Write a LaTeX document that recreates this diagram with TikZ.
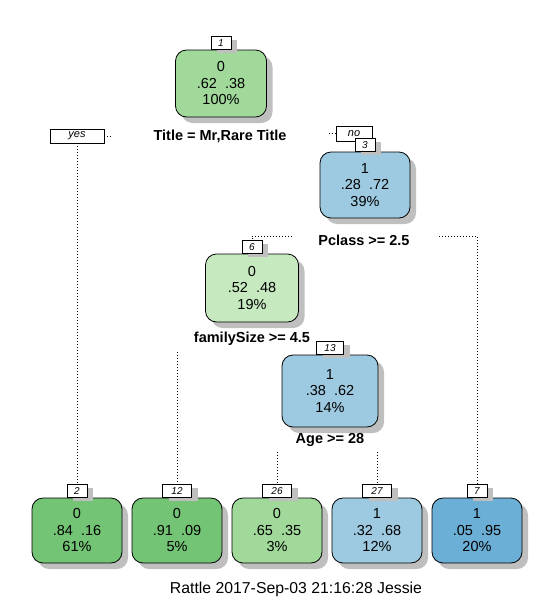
\documentclass[tikz,border=0pt]{standalone}
\usepackage{fontspec}
\setmainfont{Liberation Sans}
\usetikzlibrary{shadows}
\definecolor{greenA}{RGB}{161,217,155}
\definecolor{greenB}{RGB}{199,233,192}
\definecolor{greenC}{RGB}{116,196,118}
\definecolor{blueA}{RGB}{158,202,225}
\definecolor{blueB}{RGB}{107,174,214}
\tikzstyle{node_box} = [rectangle, draw, line width=0.8pt, rounded corners=11pt, inner sep=0pt, align=center, font=\fontsize{14.5}{16.5}\selectfont, minimum width=90pt, minimum height=66pt, drop shadow={shadow xshift=6pt, shadow yshift=-6pt, fill=black!25, opacity=1}]
\tikzstyle{node_num} = [rectangle, draw, fill=white, line width=0.7pt, inner xsep=4pt, inner sep=0pt, minimum width=20pt, minimum height=13pt, anchor=south, font=\fontsize{10}{11}\selectfont\itshape, drop shadow={shadow xshift=6pt, shadow yshift=-4pt, fill=black!25, opacity=1}]
\tikzstyle{node_split} = [font=\fontsize{14.5}{16}\selectfont\bfseries, inner sep=1pt]
\tikzstyle{node_dir} = [rectangle, draw, fill=white, line width=0.7pt, inner sep=0pt, font=\fontsize{11}{12}\selectfont\itshape]
\tikzstyle{edge_dotted} = [line width=0.8pt, dash pattern=on 0.8pt off 2.2pt]

\begin{document}
\begin{tikzpicture}[x=1pt, y=-1pt]
		\useasboundingbox (0,0) rectangle (554,600);
		\def\ly{530.5}
		\node (N1) at (221,83.5) [node_box, fill=greenA, minimum width=91pt, minimum height=67pt] {0\\.62~~.38\\100\%};
		\node (N3) at (365,185) [node_box, fill=blueA] {1\\.28~~.72\\39\%};
		\node (N6) at (252,288) [node_box, fill=greenB, minimum width=93pt, minimum height=68pt] {0\\.52~~.48\\19\%};
		\node (N13) at (330,391) [node_box, fill=blueA, minimum width=96pt, minimum height=72pt] {1\\.38~~.62\\14\%};
		\node (N2) at (77,\ly) [node_box, fill=greenC, minimum height=65pt] {0\\.84~~.16\\61\%};
		\node (N12) at (177,\ly) [node_box, fill=greenC, minimum height=65pt] {0\\.91~~.09\\5\%};
		\node (N26) at (277,\ly) [node_box, fill=greenA, minimum height=65pt] {0\\.65~~.35\\3\%};
		\node (N27) at (377,\ly) [node_box, fill=blueA, minimum height=65pt] {1\\.32~~.68\\12\%};
		\node (N7) at (477,\ly) [node_box, fill=blueB, minimum height=65pt] {1\\.05~~.95\\20\%};

		\node (S1) at (220,136) [node_split] {Title = Mr,Rare Title};
		\node (S3) at (364,240) [node_split] {Pclass >= 2.5};
		\node (S6) at (252,339) [node_split] {familySize >= 4.5};
		\node (S13) at (330,440) [node_split] {Age >= 28};

		\node (YES) at (77,136) [node_dir, minimum width=54pt, minimum height=14pt] {yes};
		\node (NO) at (354,133.5) [node_dir, minimum width=36pt, minimum height=15pt] {no};

		\node (L1) at (N1.north) [node_num] {1};
		\node (L3) at (N3.north) [node_num] {3};
		\node (L6) at (N6.north) [node_num] {6};
		\node (L13) at (N13.north) [node_num, minimum width=27pt] {13};
		\node (L2) at (N2.north) [node_num] {2};
		\node (L12) at (N12.north) [node_num, minimum width=29pt] {12};
		\node (L26) at (N26.north) [node_num, minimum width=29pt] {26};
		\node (L27) at (N27.north) [node_num, minimum width=29pt] {27};
		\node (L7) at (N7.north) [node_num] {7};

		\coordinate (A) at (112,136);
		\coordinate (B) at (329,133.5);
		\coordinate (C) at (292,236);
		\coordinate (D) at (439,236);
		\coordinate (E) at (177,352);
		\coordinate (F) at (277,452);
		\coordinate (G) at (377,452);

		\draw[edge_dotted] (YES.east) -- (A) (YES.south) -- (L2.north);
		\draw[edge_dotted] (B) -- (NO.west);
		\draw[edge_dotted] (C) -| (L6.north) (D) -| (L7.north);
		\draw[edge_dotted] (E) -- (L12.north);
		\draw[edge_dotted] (F) -- (L26.north) (G) -- (L27.north);

		\node (R) at (296,589) [font=\fontsize{15.8}{18}\selectfont] {Rattle 2017-Sep-03 21:16:28 Jessie};
		\end{tikzpicture}
\end{document}
